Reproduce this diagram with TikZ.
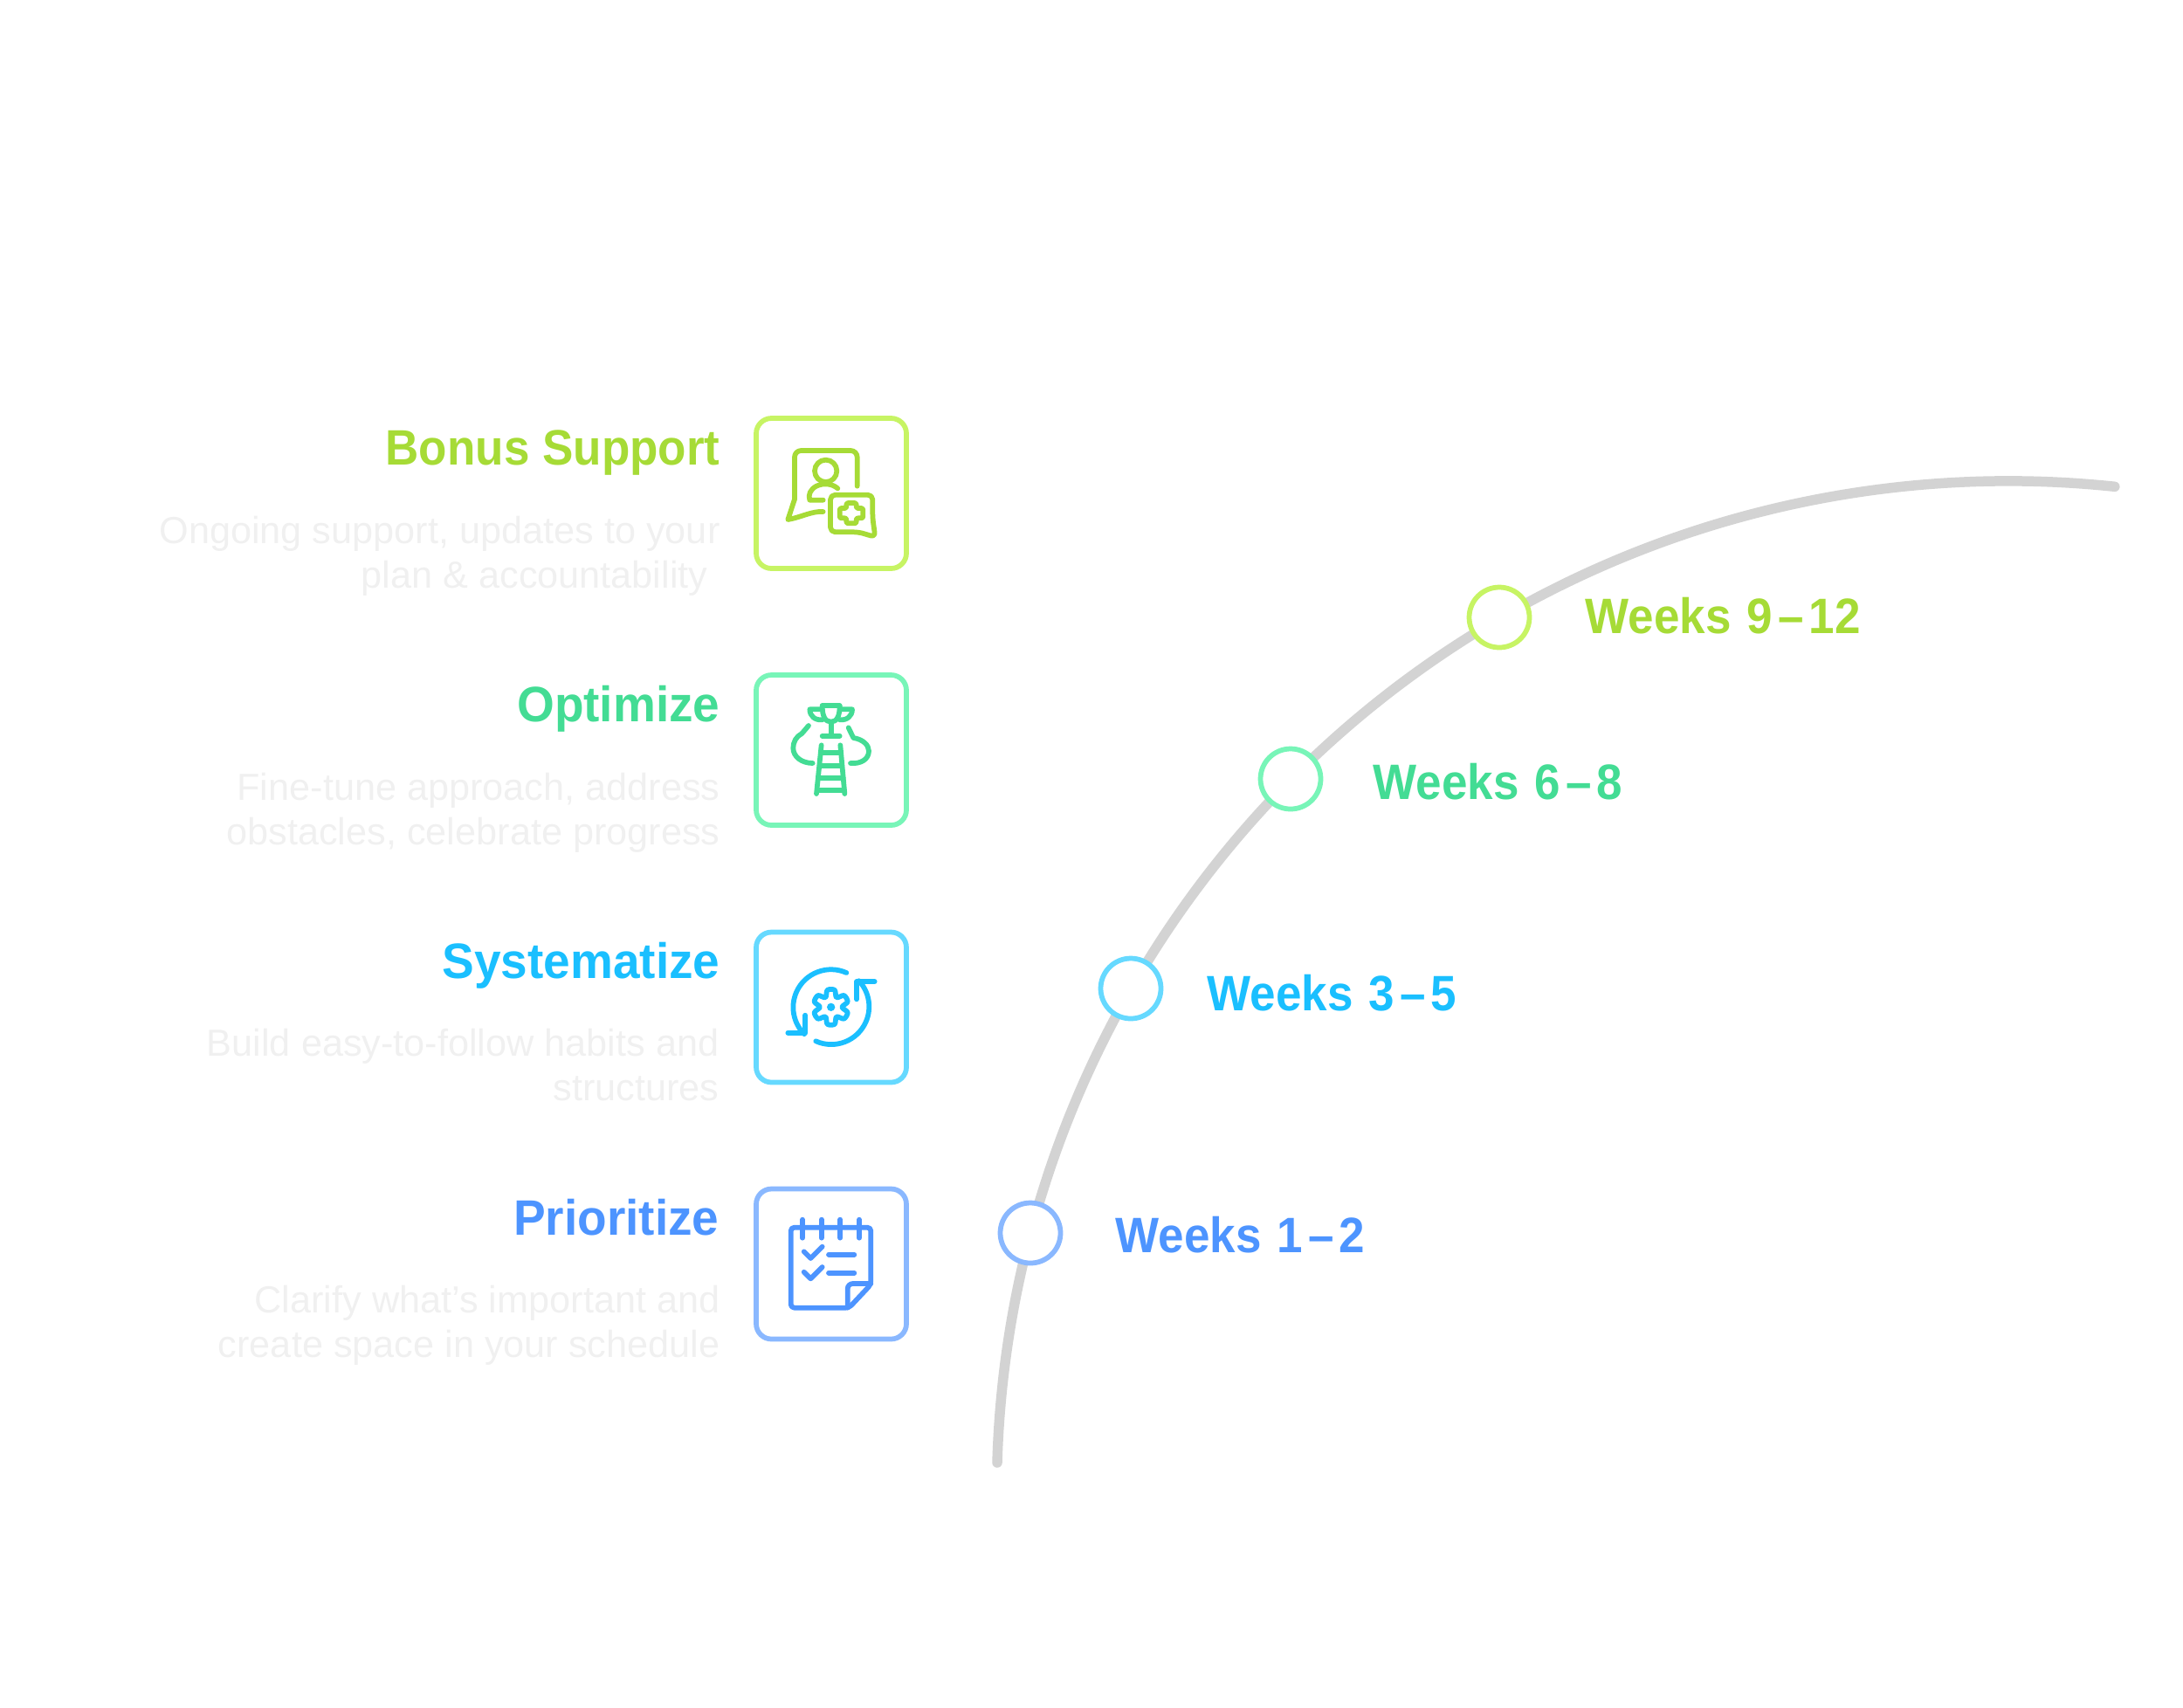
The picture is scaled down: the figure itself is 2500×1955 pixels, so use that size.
\documentclass[tikz,border=0pt]{standalone}
\usepackage{fontspec}
\setmainfont{Liberation Sans}
\newfontfamily\headfont[FakeStretch=.965]{Liberation Sans}
\newfontfamily\weekfont[FakeStretch=.93]{Liberation Sans}
\usetikzlibrary{arrows}
\definecolor{limeText}{HTML}{A6DB36}
\definecolor{limeLine}{HTML}{C7F464}
\definecolor{mintText}{HTML}{43DC94}
\definecolor{mintLine}{HTML}{78F5B8}
\definecolor{skyText}{HTML}{1ABFFF}
\definecolor{skyLine}{HTML}{66D9FF}
\definecolor{blueText}{HTML}{4D94FF}
\definecolor{blueLine}{HTML}{8AB8FF}
\definecolor{pathGrey}{HTML}{D3D3D3}
\definecolor{noteGrey}{HTML}{F0F0F0}
\tikzset{
	iconbox/.style={draw, line width=2.3pt, rounded corners=7pt, minimum size=68.8pt, inner sep=0pt},
	stepdot/.style={draw, fill=white, circle, line width=2.3pt, minimum size=27.6pt, inner sep=0pt},
	headlabel/.style={inner sep=0pt, anchor=base east, font=\headfont\bfseries\fontsize{22.8pt}{26pt}\selectfont},
	weeklabel/.style={inner sep=0pt, anchor=base west, font=\weekfont\bfseries\fontsize{22.8pt}{26pt}\selectfont},
	notelabel/.style={inner sep=0pt, anchor=north east, align=right, text=noteGrey, font=\fontsize{17.3pt}{20.4pt}\selectfont},
	iconcrop/.style={x=.13333pt, y=-.13333pt, line width=2.3pt, line cap=round, line join=round}
}
\newcommand{\wdash}{\kern2.5pt–\kern2.5pt}
\newcommand{\wgap}{\kern1.3pt\ }
\begin{document}
\begin{tikzpicture}[x=.4pt, y=-.4pt]
	\useasboundingbox (0, 0) rectangle (2500, 1955);
	% draw curve
	\coordinate (curvestart) at (1142, 1675);
	\draw [pathGrey, line width=4.6pt, line cap=round] (curvestart) arc [start angle=181.7, end angle=276.04, radius=1158.5];
	% draw step dots
	\node [stepdot, draw=blueLine] (dotone) at (1180, 1412) {};
	\node [stepdot, draw=skyLine] (dottwo) at (1295, 1132) {};
	\node [stepdot, draw=mintLine] (dotthree) at (1478, 892) {};
	\node [stepdot, draw=limeLine] (dotfour) at (1717, 707) {};
	% draw week labels
	\node [weeklabel, text=blueText] (weekone) at (1277, 1434) {Weeks\wgap 1\wdash 2};
	\node [weeklabel, text=skyText] (weektwo) at (1382, 1157) {Weeks\wgap 3\wdash 5};
	\node [weeklabel, text=mintText] (weekthree) at (1572, 915) {Weeks\wgap 6\wdash 8};
	\node [weeklabel, text=limeText] (weekfour) at (1815, 725) {Weeks\wgap 9\wdash 12};
	% draw icon boxes
	\node [iconbox, draw=limeLine] (boxbonus) at (952, 565) {};
	\node [iconbox, draw=mintLine] (boxoptimize) at (952, 859) {};
	\node [iconbox, draw=skyLine] (boxsystem) at (952, 1153.5) {};
	\node [iconbox, draw=blueLine] (boxprior) at (952, 1447.5) {};
	% draw headings
	\node [headlabel, text=limeText, font=\weekfont\bfseries\fontsize{22.8pt}{26pt}\selectfont] (headbonus) at (825, 532) {Bonus Support};
	\node [headlabel, text=mintText] (headoptimize) at (825, 826) {Optimize};
	\node [headlabel, text=skyText] (headsystem) at (825, 1120.5) {Systematize};
	\node [headlabel, text=blueText] (headprior) at (824, 1414.5) {Prioritize};
	% draw notes
	\node [notelabel] (notebonus) at (825, 591) {Ongoing support, updates to your\\plan \& accountability\kern5.6pt};
	\node [notelabel] (noteoptimize) at (825, 885) {Fine-tune approach, address\\obstacles, celebrate progress};
	\node [notelabel] (notesystem) at (824, 1178) {Build easy-to-follow habits and\\structures};
	\node [notelabel] (noteprior) at (825, 1472) {Clarify what's important and\\create space in your schedule};
	% draw bonus icon
	\begin{scope}[shift={(840, 460)}, iconcrop, draw=limeText]
		\draw [rounded corners=3pt] (425, 290) -- (425, 168) -- (210, 168) -- (210, 335);
		\draw (210, 335) -- (187, 405) .. controls (230, 398) and (270, 375) .. (308, 378);
		\draw (317, 238) circle [radius=38];
		\draw (358, 298) .. controls (340, 282) and (310, 278) .. (285, 290) .. controls (265, 300) and (255, 320) .. (262, 338) -- (308, 338);
		\draw [rounded corners=2.2pt] (333, 320) -- (478, 320) -- (478, 400) -- (487, 465) -- (430, 448) -- (333, 448) -- cycle;
		\draw [rounded corners=.8pt] (388, 348) -- (422, 348) -- (422, 366) -- (445, 366) -- (445, 400) -- (422, 400) -- (422, 418) -- (388, 418) -- (388, 400) -- (365, 400) -- (365, 366) -- (388, 366) -- cycle;
	\end{scope}
	% draw optimize icon
	\begin{scope}[shift={(840, 755)}, iconcrop, draw=mintText]
		\draw (305, 160) -- (365, 160);
		\draw (305, 160) .. controls (305, 195) and (315, 215) .. (335, 215) .. controls (355, 215) and (365, 195) .. (365, 160);
		\draw (305, 172) -- (262, 172) .. controls (262, 195) and (280, 210) .. (305, 208);
		\draw (365, 172) -- (408, 172) .. controls (408, 195) and (390, 210) .. (365, 208);
		\draw (335, 215) -- (335, 262);
		\draw (305, 263) -- (365, 263);
		\draw (258, 228) -- (235, 255) .. controls (215, 265) and (205, 285) .. (205, 305) .. controls (205, 335) and (235, 357) .. (272, 357);
		\draw (395, 235) -- (412, 270) .. controls (445, 275) and (465, 295) .. (465, 315) .. controls (465, 345) and (435, 360) .. (402, 357);
		\draw (302, 295) -- (285, 462);
		\draw (367, 295) -- (382, 462);
		\draw (300, 322) -- (369, 322);
		\draw (296, 365) -- (373, 365);
		\draw (292, 408) -- (377, 408);
		\draw (288, 450) -- (381, 450);
	\end{scope}
	% draw systematize icon
	\begin{scope}[shift={(840, 1050)}, iconcrop, draw=skyText]
		\draw (388, 192) arc [start angle=294, end angle=135, radius=130];
		\draw (247, 338) -- (247, 398) -- (187, 398);
		\draw (283, 427) arc [start angle=114, end angle=-43, radius=130];
		\draw (423, 283) -- (423, 222) -- (485, 222);
		\draw plot [smooth cycle] coordinates {(322.5, 251.3) (347.5, 251.3) (354, 277) (379.6, 269.9) (392.1, 291.5) (373, 310) (392.1, 328.5) (379.6, 350.1) (354, 343) (347.5, 368.7) (322.5, 368.7) (316, 343) (290.4, 350.1) (277.9, 328.5) (297, 310) (277.9, 291.5) (290.4, 269.9) (316, 277)};
		\fill [skyText] (335, 310) circle [radius=14];
	\end{scope}
	% draw prioritize icon
	\begin{scope}[shift={(840, 1345)}, iconcrop, draw=blueText]
		\draw [rounded corners=1.6pt] (197, 182) -- (472, 182) -- (472, 378) -- (397, 458) -- (197, 458) -- cycle;
		\draw [rounded corners=2.4pt] (472, 375) -- (392, 375) -- (392, 458);
		\draw (237, 155) -- (237, 218);
		\draw (302, 155) -- (302, 218);
		\draw (367, 155) -- (367, 218);
		\draw (432, 155) -- (432, 218);
		\draw (242, 265) -- (265, 288) -- (305, 248);
		\draw (242, 335) -- (265, 358) -- (305, 318);
		\draw (327, 275) -- (415, 275);
		\draw (327, 338) -- (415, 338);
	\end{scope}
\end{tikzpicture}
\end{document}
